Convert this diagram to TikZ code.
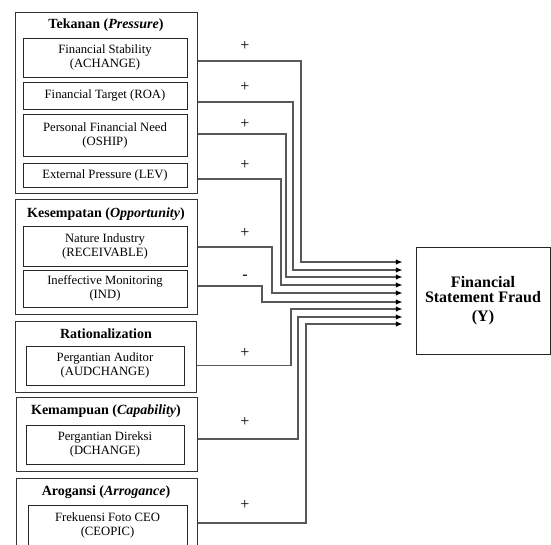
\documentclass[tikz,border=0pt]{standalone}
\usepackage{fontspec}
\setmainfont{Liberation Serif}
\usetikzlibrary{arrows.meta}

\tikzset{
  grp/.style={rectangle, draw=black!80, line width=0.75pt, minimum width=136.5pt},
  ttl/.style={font=\fontsize{10.5}{12}\selectfont\bfseries, inner sep=0pt},
  var/.style={rectangle, draw=black!85, line width=0.7pt, align=center, inner sep=1pt,
    font=\fontsize{9.5}{10.5}\selectfont},
  dep/.style={rectangle, draw=black!85, line width=0.7pt, align=center,
    font=\fontsize{12}{11.5}\selectfont\bfseries},
  link/.style={draw=black!65, line width=0.9pt, -{Latex[length=5pt,width=4.2pt,black]}, shorten >=9.75pt},
  sign/.style={font=\fontsize{12}{14}\selectfont, inner sep=0pt}
}

\begin{document}
\begin{tikzpicture}[x=0.75pt, y=-0.75pt]
  \clip (0,0) rectangle (551,544);

  % Tekanan
  \node (tek) [grp, minimum height=135.75pt] at (106,102.5) {};
  \node (tekt) [ttl] at (106,25) {Tekanan (\textit{Pressure})};
  \node (fs) [var, minimum width=123pt, minimum height=29.25pt] at (105,57.5) {Financial Stability\\(ACHANGE)};
  \node (roa) [var, minimum width=123pt, minimum height=20.25pt] at (105,95.5) {Financial Target (ROA)};
  \node (oship) [var, minimum width=123pt, minimum height=31.5pt] at (105,135) {Personal Financial Need\\(OSHIP)};
  \node (lev) [var, minimum width=123pt, minimum height=18pt] at (105,175) {External Pressure (LEV)};

  % Kesempatan
  \node (kes) [grp, minimum height=86.25pt] at (106,256.5) {};
  \node (kest) [ttl] at (106,214) {Kesempatan (\textit{Opportunity})};
  \node (rec) [var, minimum width=123pt, minimum height=30pt] at (105,246) {Nature Industry\\(RECEIVABLE)};
  \node (ind) [var, minimum width=123pt, minimum height=27.75pt] at (105,288.5) {Ineffective Monitoring\\(IND)};

  % Rationalization
  \node (rat) [grp, minimum width=135.75pt, minimum height=53.25pt] at (105.5,356.5) {};
  \node (ratt) [ttl] at (106,334) {Rationalization};
  \node (aud) [var, minimum width=118.5pt, minimum height=29.25pt] at (105,365.5) {Pergantian Auditor\\(AUDCHANGE)};

  % Kemampuan
  \node (kem) [grp, minimum width=135.75pt, minimum height=55.5pt] at (106.5,434) {};
  \node (kemt) [ttl] at (106,411) {Kemampuan (\textit{Capability})};
  \node (dch) [var, minimum width=118.5pt, minimum height=29.25pt] at (105,444.5) {Pergantian Direksi\\(DCHANGE)};

  % Arogansi
  \node (aro) [grp, minimum width=135.75pt, minimum height=57pt] at (106.5,516) {};
  \node (arot) [ttl] at (106,492) {Arogansi (\textit{Arrogance})};
  \node (ceo) [var, minimum width=119.25pt, minimum height=30pt] at (107.5,525) {Frekuensi Foto CEO\\(CEOPIC)};

  % dependent variable
  \node (fy) [dep, minimum width=100.5pt, minimum height=80.25pt] at (483,300.5) {Financial\\Statement Fraud\\[2.5pt](Y)};

  % connectors
  \foreach \src/\grp/\dy/\tx/\ty in {fs/tek/-2.6pt/301/262, roa/tek/-4.9pt/293/270,
      oship/tek/0.75pt/286/277, lev/tek/-3pt/281/285, rec/kes/-0.75pt/272/293,
      ind/kes/1.9pt/262/302, aud/rat/0pt/291/309, dch/kem/4.1pt/298/317, ceo/aro/1.5pt/306/324}{
    \coordinate (bend) at (\tx,\ty);
    \draw[link] ([yshift=\dy]\src.east -| \grp.east) -| (bend) -- (bend -| fy.west);
  }

  % signs
  \foreach \sy/\sg [count=\i] in {46/+, 87/+, 124/+, 165/+, 233/+, 277/-, 353/+, 422/+, 505/+}
    \node (s\i) [sign] at (245,\sy) {\sg};
\end{tikzpicture}
\end{document}
